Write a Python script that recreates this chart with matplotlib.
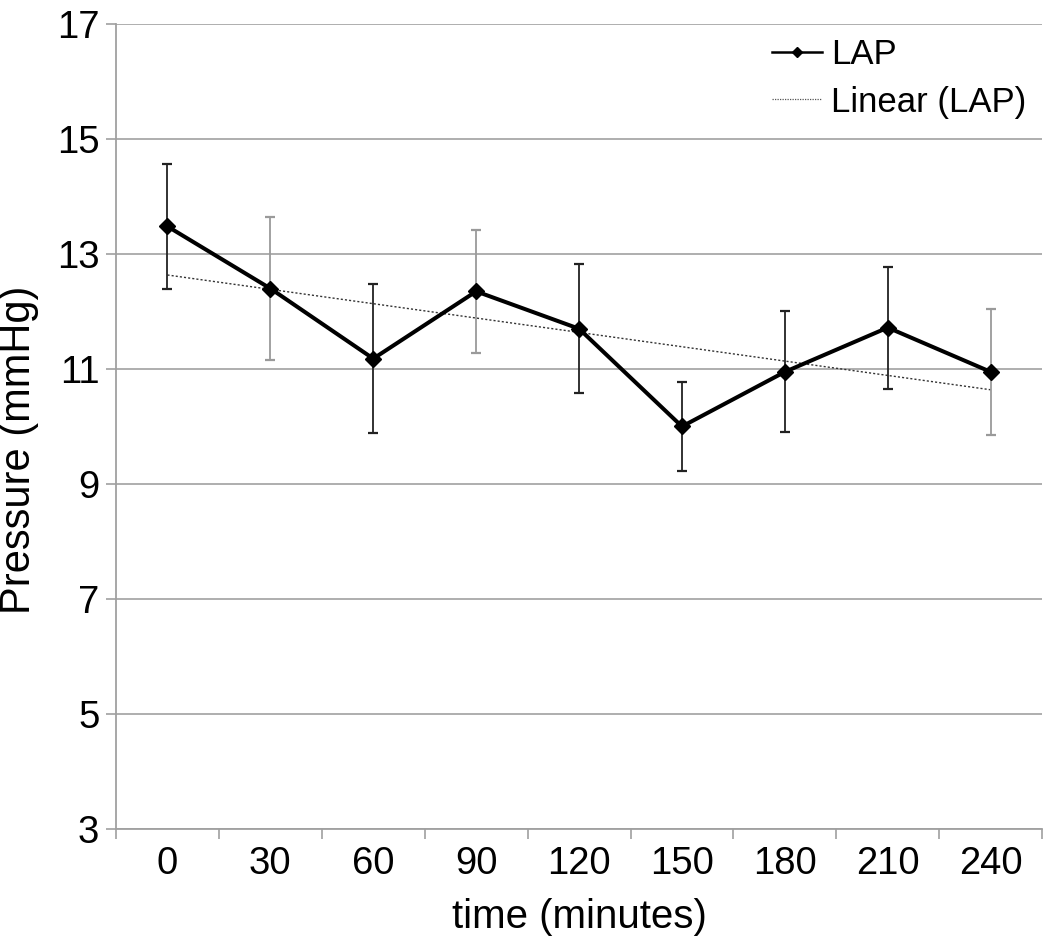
import numpy as np
import matplotlib
matplotlib.use("Agg")
import matplotlib.pyplot as plt
from matplotlib.lines import Line2D

plt.rcParams["font.family"] = ["Liberation Sans", "DejaVu Sans"]

times = ["0", "30", "60", "90", "120", "150", "180", "210", "240"]
lap = [13.48, 12.40, 11.18, 12.35, 11.70, 10.00, 10.95, 11.72, 10.95]
lap_err = [1.08, 1.25, 1.30, 1.07, 1.12, 0.77, 1.05, 1.06, 1.10]

y_ticks = [3, 5, 7, 9, 11, 13, 15, 17]

err_colors = ["#222222", "#9a9a9a", "#222222", "#9a9a9a", "#222222",
              "#222222", "#222222", "#222222", "#9a9a9a"]


def main():
    fig = plt.figure(figsize=(10.5, 9.42), dpi=100)
    ax = fig.add_axes([0.1105, 0.12, 0.882, 0.8545])

    x = np.arange(len(times))

    for i in range(len(times)):
        ax.errorbar(x[i], lap[i], yerr=lap_err[i], fmt="none",
                    ecolor=err_colors[i], elinewidth=1.3, capsize=3.5,
                    capthick=1.6, zorder=3)

    # linear trend of the LAP series
    coef = np.polyfit(x, lap, 1)
    ax.plot(x, np.polyval(coef, x), color="#333333", linestyle=(0, (1.5, 1.5)),
            linewidth=1.0, zorder=2)

    ax.plot(x, lap, color="black", linewidth=2.9, marker="D",
            markersize=8.5, zorder=4)

    ax.set_xlim(-0.5, len(times) - 0.5)
    ax.set_ylim(3, 17)
    ax.set_yticks(y_ticks)
    ax.set_yticklabels([str(v) for v in y_ticks], fontsize=27.5)
    ax.set_xticks(x)
    ax.set_xticklabels(times, fontsize=27.5)
    ax.set_xticks(np.arange(-0.5, len(times), 1.0), minor=True)
    ax.tick_params(axis="x", which="major", length=0, pad=12)
    ax.tick_params(axis="x", which="minor", length=7, color="#a0a0a0", width=1.2)
    ax.tick_params(axis="y", length=7, color="#a0a0a0", width=1.2, pad=5)

    ax.grid(axis="y", color="#a8a8a8", linewidth=1.3)
    ax.set_axisbelow(True)
    for side in ["top", "right"]:
        ax.spines[side].set_visible(False)
    for side in ["left", "bottom"]:
        ax.spines[side].set_color("#a0a0a0")
        ax.spines[side].set_linewidth(1.3)

    ax.set_xlabel("time (minutes)", fontsize=29, labelpad=12)
    ax.set_ylabel("Pressure (mmHg)", fontsize=30)
    ax.yaxis.set_label_coords(-0.083, 0.471)

    handles = [
        Line2D([], [], color="black", linewidth=1.8, marker="D", markersize=5),
        Line2D([], [], color="#555555", linestyle=(0, (1, 1)), linewidth=0.9),
    ]
    ax.legend(handles, ["LAP", "Linear (LAP)"], loc="upper left",
              bbox_to_anchor=(772 / 1050, 1 - 38 / 942),
              bbox_transform=fig.transFigure, frameon=False, fontsize=25,
              borderpad=0, borderaxespad=0,
              handlelength=1.45, handletextpad=0.25, labelspacing=0.42)

    fig.savefig("out.png", dpi=100)
    plt.close(fig)


if __name__ == "__main__":
    main()
